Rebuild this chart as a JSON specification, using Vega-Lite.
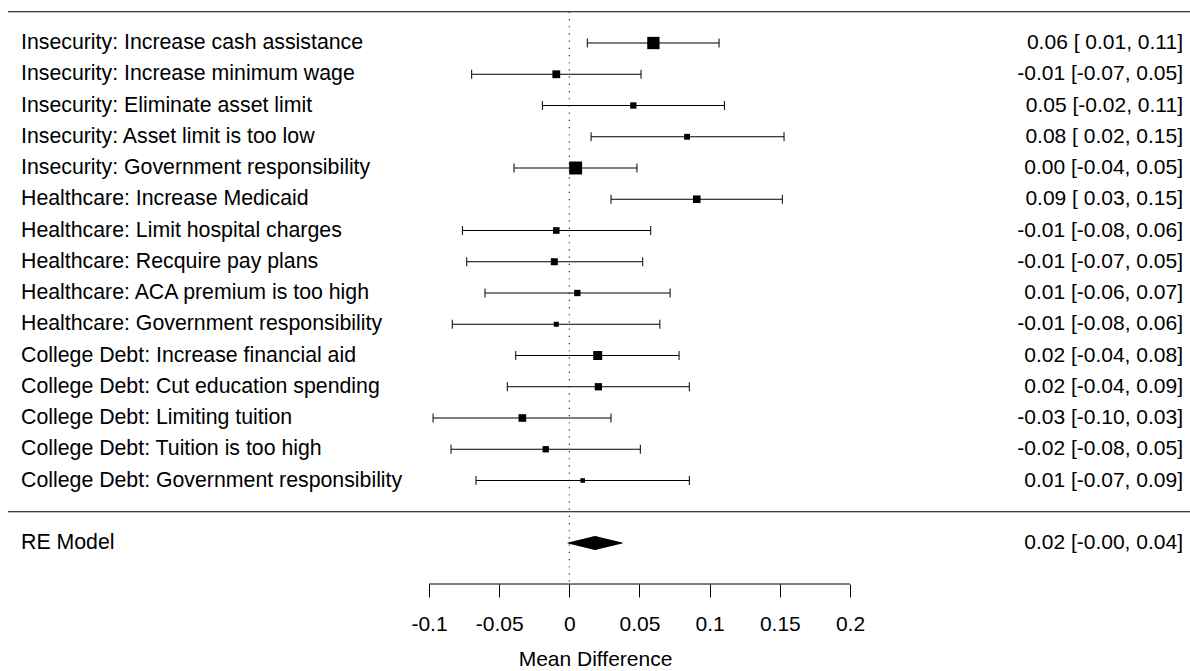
{
  "$schema": "https://vega.github.io/schema/vega-lite/v6.json",
  "width": 1190,
  "height": 584,
  "autosize": {"type": "none"},
  "padding": {"left": 0, "top": 0, "right": 0, "bottom": 87},
  "background": "white",
  "config": {
    "view": {"stroke": null},
    "font": "Liberation Sans",
    "axis": {"grid": false}
  },
  "datasets": {
    "studies": [
      {"label": "Insecurity: Increase cash assistance", "row": 15, "est": 0.0599, "ci_lb": 0.0128, "ci_ub": 0.1067, "weight": 151, "ci_text": "0.06 [ 0.01, 0.11]"},
      {"label": "Insecurity: Increase minimum wage", "row": 14, "est": -0.0093, "ci_lb": -0.0696, "ci_ub": 0.0511, "weight": 61, "ci_text": "-0.01 [-0.07, 0.05]"},
      {"label": "Insecurity: Eliminate asset limit", "row": 13, "est": 0.0456, "ci_lb": -0.0192, "ci_ub": 0.1105, "weight": 40, "ci_text": "0.05 [-0.02, 0.11]"},
      {"label": "Insecurity: Asset limit is too low", "row": 12, "est": 0.0839, "ci_lb": 0.0155, "ci_ub": 0.153, "weight": 34, "ci_text": "0.08 [ 0.02, 0.15]"},
      {"label": "Insecurity: Government responsibility", "row": 11, "est": 0.0045, "ci_lb": -0.0394, "ci_ub": 0.0482, "weight": 169, "ci_text": "0.00 [-0.04, 0.05]"},
      {"label": "Healthcare: Increase Medicaid", "row": 10, "est": 0.0908, "ci_lb": 0.0297, "ci_ub": 0.1518, "weight": 58, "ci_text": "0.09 [ 0.03, 0.15]"},
      {"label": "Healthcare: Limit hospital charges", "row": 9, "est": -0.0093, "ci_lb": -0.0762, "ci_ub": 0.058, "weight": 44, "ci_text": "-0.01 [-0.08, 0.06]"},
      {"label": "Healthcare: Recquire pay plans", "row": 8, "est": -0.0107, "ci_lb": -0.0731, "ci_ub": 0.0523, "weight": 49, "ci_text": "-0.01 [-0.07, 0.05]"},
      {"label": "Healthcare: ACA premium is too high", "row": 7, "est": 0.0057, "ci_lb": -0.0601, "ci_ub": 0.0718, "weight": 40, "ci_text": "0.01 [-0.06, 0.07]"},
      {"label": "Healthcare: Government responsibility", "row": 6, "est": -0.0093, "ci_lb": -0.0834, "ci_ub": 0.0645, "weight": 25, "ci_text": "-0.01 [-0.08, 0.06]"},
      {"label": "College Debt: Increase financial aid", "row": 5, "est": 0.0202, "ci_lb": -0.0382, "ci_ub": 0.0782, "weight": 81, "ci_text": "0.02 [-0.04, 0.08]"},
      {"label": "College Debt: Cut education spending", "row": 4, "est": 0.0207, "ci_lb": -0.0442, "ci_ub": 0.0855, "weight": 53, "ci_text": "0.02 [-0.04, 0.09]"},
      {"label": "College Debt: Limiting tuition", "row": 3, "est": -0.0335, "ci_lb": -0.0971, "ci_ub": 0.0297, "weight": 58, "ci_text": "-0.03 [-0.10, 0.03]"},
      {"label": "College Debt: Tuition is too high", "row": 2, "est": -0.0168, "ci_lb": -0.0843, "ci_ub": 0.0506, "weight": 40, "ci_text": "-0.02 [-0.08, 0.05]"},
      {"label": "College Debt: Government responsibility", "row": 1, "est": 0.0095, "ci_lb": -0.0665, "ci_ub": 0.0855, "weight": 21, "ci_text": "0.01 [-0.07, 0.09]"}
    ],
    "pooled": [
      {"label": "RE Model", "row": -1, "est": 0.0183, "ci_lb": -0.0009, "ci_ub": 0.0376, "ci_text": "0.02 [-0.00, 0.04]"}
    ]
  },
  "data": {"name": "studies"},
  "layer": [
    {
      "data": {"values": [{}]},
      "mark": {"type": "rule", "color": "#000000", "strokeWidth": 1},
      "encoding": {
        "x": {
          "datum": -0.4, "type": "quantitative",
          "scale": {"domain": [-0.4057, 0.44228], "nice": false, "zero": false},
          "axis": {
            "values": [-0.1, -0.05, 0, 0.05, 0.1, 0.15, 0.2],
            "labelExpr": "toString(datum.value)",
            "domain": false,
            "tickSize": 13,
            "tickColor": "#000000",
            "tickWidth": 1,
            "labelPadding": 16,
            "labelFont": "Liberation Sans",
            "labelFontSize": 21,
            "labelColor": "#000000",
            "title": "Mean Difference",
            "titleFont": "Liberation Sans",
            "titleFontSize": 21,
            "titleFontWeight": "normal",
            "titleColor": "#000000",
            "titlePadding": 14
          }
        },
        "x2": {"datum": 0.44228},
        "y": {"datum": 16, "type": "quantitative", "scale": {"domain": [-2.312, 16.376], "nice": false, "zero": false}, "axis": null}
      }
    },
    {
      "data": {"values": [{}]},
      "mark": {"type": "rule", "color": "#000000", "strokeWidth": 1},
      "encoding": {
        "x": {"datum": -0.4, "type": "quantitative"},
        "x2": {"datum": 0.44228},
        "y": {"datum": 0, "type": "quantitative", "axis": null}
      }
    },
    {
      "data": {"values": [{}]},
      "mark": {"type": "rule", "color": "#333333", "strokeWidth": 1.2, "strokeDash": [1.2, 6]},
      "encoding": {
        "x": {"datum": 0, "type": "quantitative"},
        "y": {"datum": 16, "type": "quantitative", "axis": null},
        "y2": {"datum": -2.312}
      }
    },
    {
      "data": {"values": [{}]},
      "mark": {"type": "rule", "color": "#000000", "strokeWidth": 1},
      "encoding": {
        "x": {"datum": -0.1, "type": "quantitative"},
        "x2": {"datum": 0.2},
        "y": {"datum": -2.312, "type": "quantitative", "axis": null}
      }
    },
    {
      "mark": {"type": "rule", "color": "#000000", "strokeWidth": 1},
      "encoding": {
        "x": {"field": "ci_lb", "type": "quantitative"},
        "x2": {"field": "ci_ub"},
        "y": {"field": "row", "type": "quantitative", "axis": null}
      }
    },
    {
      "mark": {"type": "rule", "color": "#000000", "strokeWidth": 1, "yOffset": -4.5, "y2Offset": 4.5},
      "encoding": {
        "x": {"field": "ci_lb", "type": "quantitative"},
        "y": {"field": "row", "type": "quantitative", "axis": null},
        "y2": {"field": "row"}
      }
    },
    {
      "mark": {"type": "rule", "color": "#000000", "strokeWidth": 1, "yOffset": -4.5, "y2Offset": 4.5},
      "encoding": {
        "x": {"field": "ci_ub", "type": "quantitative"},
        "y": {"field": "row", "type": "quantitative", "axis": null},
        "y2": {"field": "row"}
      }
    },
    {
      "mark": {"type": "point", "shape": "square", "filled": true, "color": "#000000", "opacity": 1},
      "encoding": {
        "x": {"field": "est", "type": "quantitative"},
        "y": {"field": "row", "type": "quantitative", "axis": null},
        "size": {"field": "weight", "type": "quantitative", "scale": {"domain": [0, 100], "range": [0, 100], "zero": true}, "legend": null}
      }
    },
    {
      "mark": {"type": "text", "align": "left", "baseline": "middle", "font": "Liberation Sans", "fontSize": 21.3, "color": "#000000"},
      "encoding": {
        "x": {"datum": -0.39073, "type": "quantitative"},
        "y": {"field": "row", "type": "quantitative", "axis": null},
        "text": {"field": "label"}
      }
    },
    {
      "mark": {"type": "text", "align": "right", "baseline": "middle", "font": "Liberation Sans", "fontSize": 21, "color": "#000000"},
      "encoding": {
        "x": {"datum": 0.4373, "type": "quantitative"},
        "y": {"field": "row", "type": "quantitative", "axis": null},
        "text": {"field": "ci_text"}
      }
    },
    {
      "data": {"name": "pooled"},
      "transform": [{"fold": ["ci_lb", "est", "ci_ub"], "as": ["pt", "xv"]}],
      "mark": {"type": "trail", "color": "#000000"},
      "encoding": {
        "x": {"field": "xv", "type": "quantitative"},
        "y": {"field": "row", "type": "quantitative", "axis": null},
        "size": {"field": "pt", "type": "nominal", "scale": {"type": "ordinal", "domain": ["ci_lb", "est", "ci_ub"], "range": [0, 14, 0]}, "legend": null},
        "order": {"field": "xv", "type": "quantitative"}
      }
    },
    {
      "data": {"name": "pooled"},
      "mark": {"type": "text", "align": "left", "baseline": "middle", "font": "Liberation Sans", "fontSize": 21.3, "color": "#000000"},
      "encoding": {
        "x": {"datum": -0.39073, "type": "quantitative"},
        "y": {"field": "row", "type": "quantitative", "axis": null},
        "text": {"field": "label"}
      }
    },
    {
      "data": {"name": "pooled"},
      "mark": {"type": "text", "align": "right", "baseline": "middle", "font": "Liberation Sans", "fontSize": 21, "color": "#000000"},
      "encoding": {
        "x": {"datum": 0.4373, "type": "quantitative"},
        "y": {"field": "row", "type": "quantitative", "axis": null},
        "text": {"field": "ci_text"}
      }
    }
  ]
}
